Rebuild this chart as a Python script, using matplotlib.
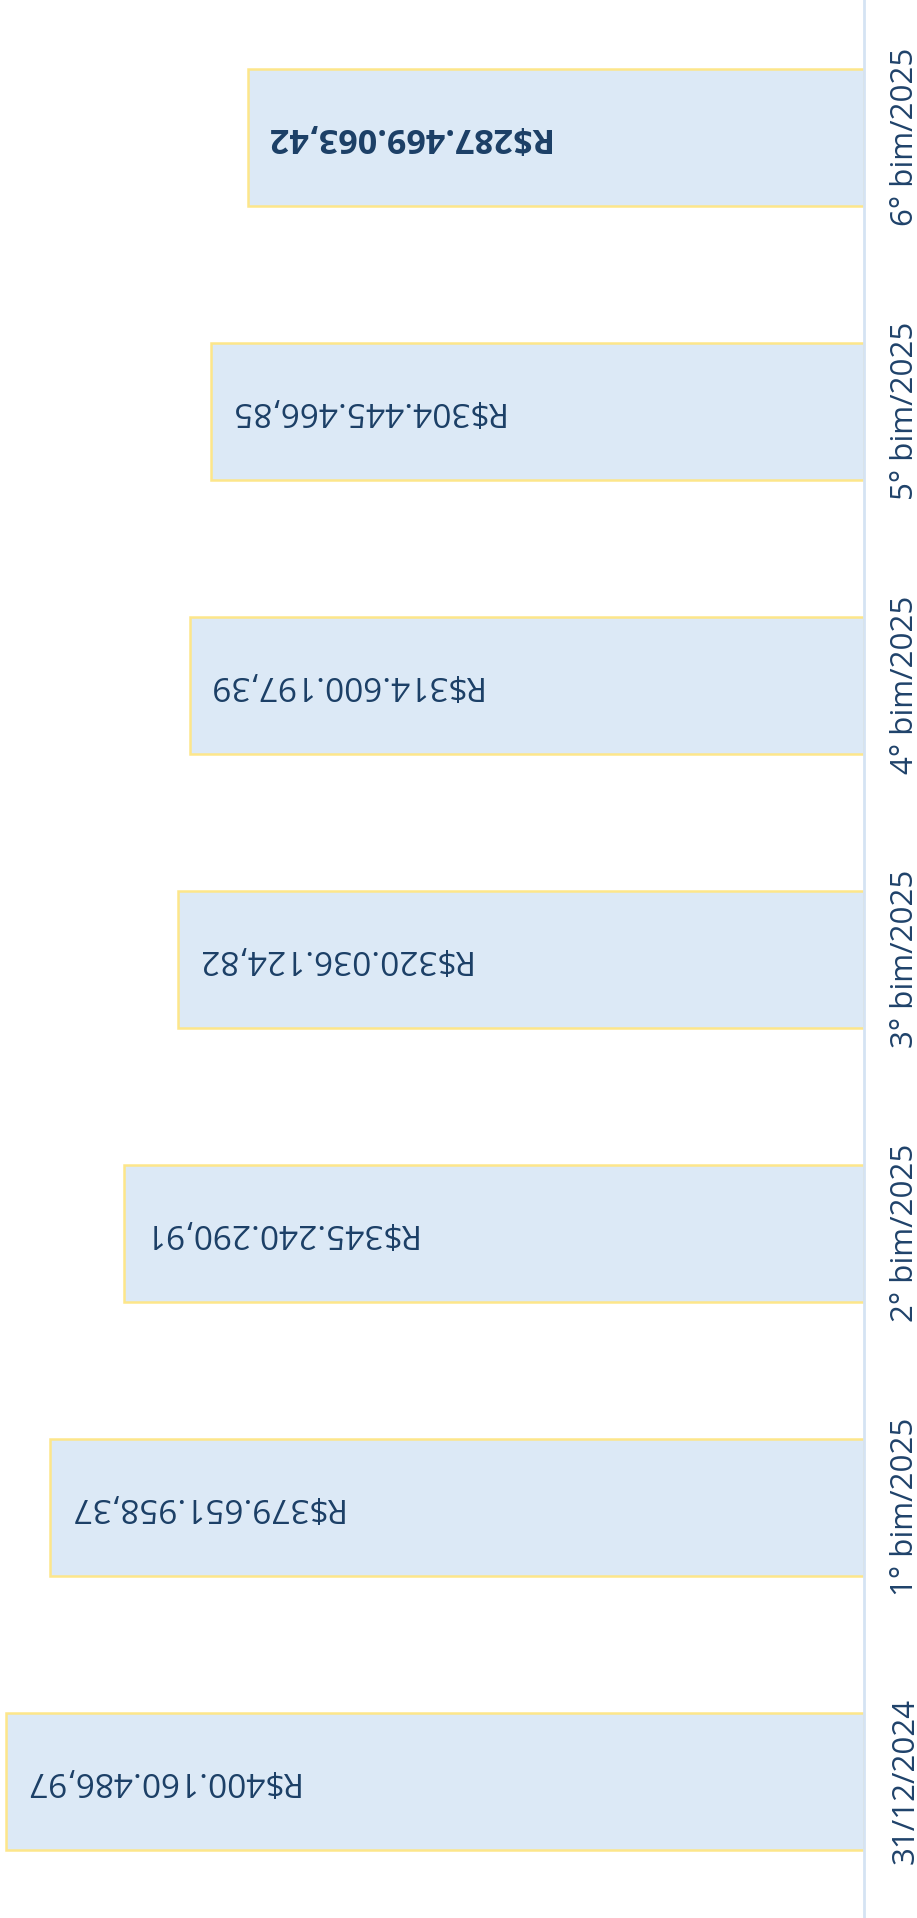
import matplotlib
matplotlib.use("Agg")
import matplotlib.pyplot as plt

categories = ["31/12/2024", "1° bim/2025", "2° bim/2025", "3° bim/2025",
              "4° bim/2025", "5° bim/2025", "6° bim/2025"]
values = [400160486.97, 379651958.37, 345240290.91, 320036124.82,
          314600197.39, 304445466.85, 287469063.42]
labels = ["R$400.160.486,97", "R$379.651.958,37", "R$345.240.290,91",
          "R$320.036.124,82", "R$314.600.197,39", "R$304.445.466,85",
          "R$287.469.063,42"]

plt.rcParams['font.family'] = ['Open Sans', 'DejaVu Sans']

W, H = 917, 1918
fig = plt.figure(figsize=(W / 100, H / 100), dpi=100)
fig.patch.set_facecolor("white")
ax = fig.add_axes([0, 0, 864 / W, 1])
ax.set_facecolor("white")

idx = list(range(len(categories)))
ax.barh(idx, values, height=0.5, color="#dce9f6", edgecolor="#fde68a",
        linewidth=1.8, zorder=2)

ax.set_xlim(403e6, 0)
ax.set_ylim(-0.5, 6.5)

text_color = "#1b3f66"
for i, (v, lab) in enumerate(zip(values, labels)):
    bold = (i == len(values) - 1)
    ax.annotate(lab, xy=(v, i), xytext=(16, 0), textcoords="offset pixels",
                ha="left", va="center", rotation=180,
                fontsize=24.5 if bold else 24,
                fontweight="bold" if bold else "normal", color=text_color,
                zorder=3)

for s in ["top", "bottom", "left"]:
    ax.spines[s].set_visible(False)
ax.spines["right"].set_color("#d5e3f3")
ax.spines["right"].set_linewidth(2)
ax.set_xticks([])
ax.yaxis.tick_right()
ax.set_yticks(idx)
ax.set_yticklabels(categories, rotation=90, va="center", ha="left",
                   fontsize=22.5, color="#1f426a")
ax.tick_params(axis="y", length=0, pad=19)

fig.savefig("out.png", dpi=100, facecolor="white")
